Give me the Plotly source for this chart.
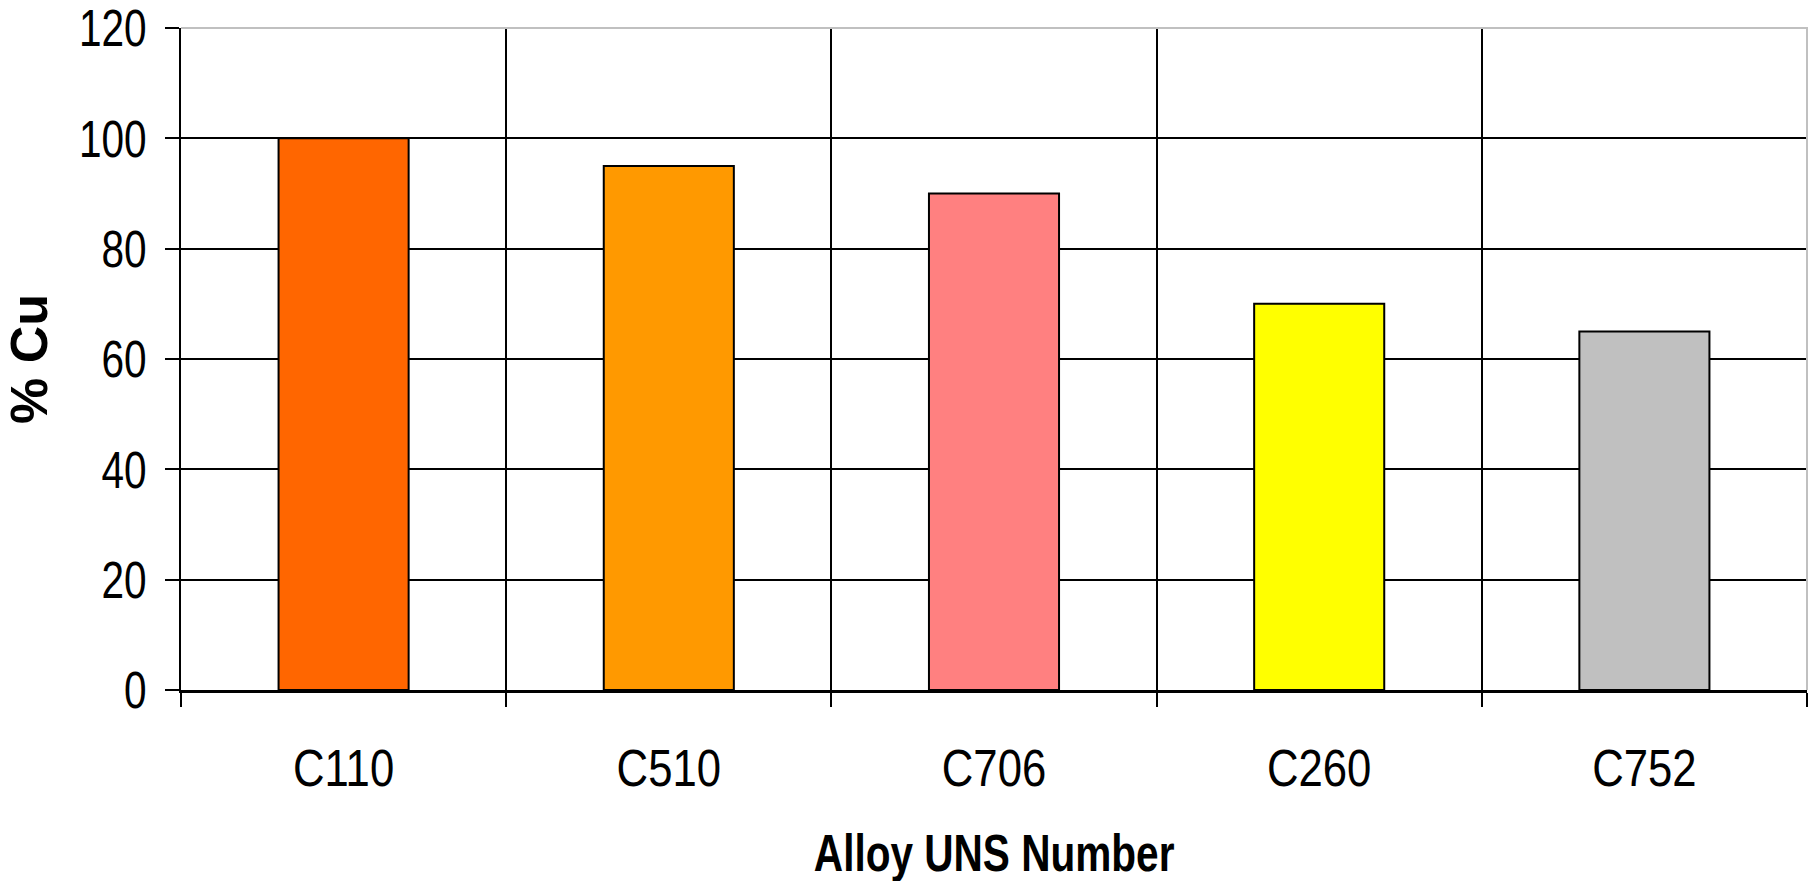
import plotly.graph_objects as go

# Copper content by alloy
alloys = ["C110", "C510", "C706", "C260", "C752"]
copper_pct = [100, 95, 90, 70, 65]
bar_colors = ["#FF6600", "#FF9900", "#FF8080", "#FFFF00", "#C0C0C0"]
y_ticks = [0, 20, 40, 60, 80, 100, 120]

FONT = "Liberation Sans, Arial, sans-serif"

fig = go.Figure(
    go.Bar(
        x=alloys,
        y=copper_pct,
        marker=dict(color=bar_colors, line=dict(color="black", width=2)),
        width=0.4,
    )
)

fig.update_layout(
    width=1813,
    height=881,
    margin=dict(l=181, r=6, t=28, b=191, autoexpand=False),
    paper_bgcolor="white",
    plot_bgcolor="white",
    showlegend=False,
    font=dict(family=FONT, size=52, color="black"),
    xaxis=dict(
        type="category",
        range=[-0.5, 4.5],
        tickson="boundaries",
        showgrid=True,
        gridcolor="black",
        gridwidth=2,
        ticks="outside",
        ticklen=14,
        tickwidth=2,
        tickcolor="black",
        showline=True,
        linecolor="black",
        linewidth=3,
        ticklabelstandoff=31,
        ticklabeloverflow="allow",
        tickfont=dict(family=FONT, size=52),
        automargin=False,
        fixedrange=True,
    ),
    yaxis=dict(
        range=[0, 120],
        tickvals=y_ticks,
        showgrid=True,
        gridcolor="black",
        gridwidth=2,
        zeroline=False,
        ticks="outside",
        ticklen=14,
        tickwidth=2,
        tickcolor="black",
        showline=True,
        linecolor="black",
        linewidth=2,
        ticklabelstandoff=8,
        ticklabeloverflow="allow",
        tickfont=dict(family=FONT, size=52),
        automargin=False,
        fixedrange=True,
    ),
    shapes=[
        # light frame along the top and right edges of the plot area
        dict(
            type="path",
            xref="paper",
            yref="paper",
            path="M 0,1 L 1,1 L 1,0",
            line=dict(color="#C0C0C0", width=2),
            layer="above",
        )
    ],
    annotations=[
        dict(
            text="<b>Alloy UNS Number</b>",
            xref="paper",
            yref="paper",
            x=0.5,
            y=0,
            yshift=-163,
            showarrow=False,
            xanchor="center",
            yanchor="middle",
            font=dict(family=FONT, size=52),
        ),
        dict(
            text="<b>% Cu</b>",
            xref="paper",
            yref="paper",
            x=0,
            y=0.5,
            xshift=-152,
            textangle=-90,
            showarrow=False,
            xanchor="center",
            yanchor="middle",
            font=dict(family=FONT, size=52),
        ),
    ],
)

# Narrow the horizontal labels (tall, condensed lettering)
squeeze_js = """
var gd = document.getElementById('{plot_id}');
function squeeze(sel, k) {
    gd.querySelectorAll(sel).forEach(function (t) {
        var w = t.getComputedTextLength();
        t.setAttribute('textLength', (w * k).toFixed(2));
        t.setAttribute('lengthAdjust', 'spacingAndGlyphs');
    });
}
squeeze('.xtick text', 0.84);
squeeze('.ytick text', 0.78);
squeeze('.annotation[data-index="0"] text.annotation-text', 0.78);
"""

fig.write_html("out.html", config={"displayModeBar": False}, post_script=squeeze_js)
